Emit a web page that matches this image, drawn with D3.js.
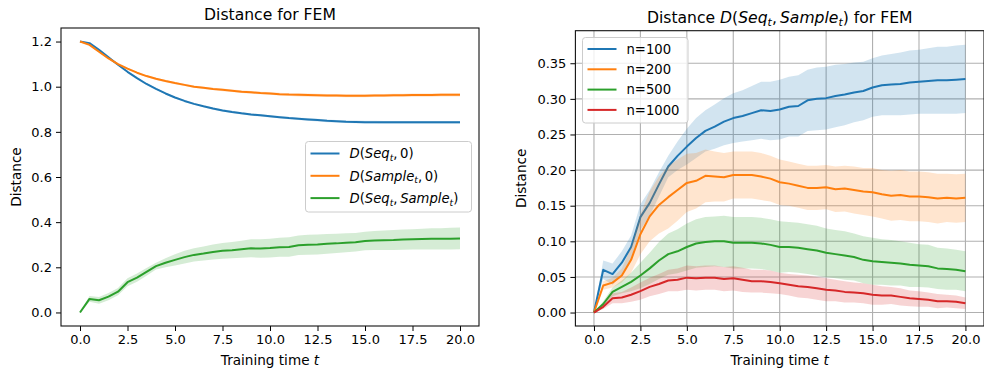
<!DOCTYPE html>
<html>
<head>
<meta charset="utf-8">
<script src="https://cdn.jsdelivr.net/npm/d3@7"></script>
<style>
  body { margin: 0; background: #fff; }
  svg { display: block; font-family: "DejaVu Sans", sans-serif; }
</style>
</head>
<body>
<svg id="chart" width="984" height="371"></svg>
<script>
// Training times (every 0.5)
const times = [0, 0.5, 1, 1.5, 2, 2.5, 3, 3.5, 4, 4.5, 5, 5.5, 6, 6.5, 7, 7.5, 8, 8.5, 9, 9.5,
               10, 10.5, 11, 11.5, 12, 12.5, 13, 13.5, 14, 14.5, 15, 15.5, 16, 16.5, 17, 17.5, 18, 18.5, 19, 19.5, 20]

// Left panel: D(Seq_t, 0) and D(Sample_t, 0)
const seqToInit = [1.200, 1.193, 1.163, 1.130, 1.097, 1.066, 1.038, 1.012, 0.990, 0.970,
                   0.952, 0.937, 0.924, 0.913, 0.903, 0.895, 0.888, 0.882, 0.877, 0.873,
                   0.869, 0.865, 0.861, 0.858, 0.855, 0.852, 0.849, 0.847, 0.845, 0.844,
                   0.843, 0.843, 0.842, 0.842, 0.842, 0.842, 0.842, 0.842, 0.842, 0.842, 0.842]
const seqToInitStd = [0, 0.002, 0.003, 0.003, 0.003, 0.003, 0.004, 0.004, 0.004, 0.004,
                      0.004, 0.004, 0.004, 0.004, 0.005, 0.005, 0.005, 0.005, 0.005, 0.005,
                      0.005, 0.005, 0.005, 0.005, 0.006, 0.006, 0.006, 0.006, 0.006, 0.006,
                      0.006, 0.006, 0.006, 0.006, 0.006, 0.006, 0.006, 0.006, 0.006, 0.006, 0.006]
const sampleToInit = [1.200, 1.185, 1.155, 1.125, 1.100, 1.080, 1.062, 1.047, 1.035, 1.025,
                      1.016, 1.008, 1.000, 0.995, 0.990, 0.986, 0.982, 0.978, 0.975, 0.972,
                      0.970, 0.967, 0.965, 0.964, 0.963, 0.962, 0.961, 0.961, 0.960, 0.960,
                      0.960, 0.961, 0.961, 0.962, 0.962, 0.963, 0.963, 0.963, 0.964, 0.964, 0.964]
const sampleToInitStd = [0, 0.002, 0.003, 0.003, 0.004, 0.004, 0.004, 0.004, 0.005, 0.005,
                         0.005, 0.005, 0.005, 0.005, 0.005, 0.006, 0.006, 0.006, 0.006, 0.006,
                         0.006, 0.006, 0.006, 0.007, 0.007, 0.007, 0.007, 0.007, 0.007, 0.007,
                         0.007, 0.007, 0.007, 0.007, 0.007, 0.007, 0.007, 0.007, 0.007, 0.007, 0.007]

// D(Seq_t, Sample_t) per sample size (n=100 is also the green curve on the left)
const sizeLabels = ['n=100', 'n=200', 'n=500', 'n=1000']
const dist100 = [0, 0.060, 0.054, 0.070, 0.092, 0.134, 0.154, 0.180, 0.205, 0.220,
                 0.233, 0.245, 0.255, 0.261, 0.268, 0.273, 0.276, 0.280, 0.284, 0.283,
                 0.285, 0.289, 0.290, 0.298, 0.300, 0.301, 0.304, 0.306, 0.309, 0.311,
                 0.316, 0.319, 0.320, 0.321, 0.323, 0.324, 0.325, 0.326, 0.326, 0.327, 0.328]
const dist100Std = [0, 0.013, 0.015, 0.016, 0.016, 0.018, 0.018, 0.017, 0.015, 0.020,
                    0.025, 0.028, 0.029, 0.031, 0.033, 0.035, 0.036, 0.038, 0.040, 0.041,
                    0.042, 0.042, 0.043, 0.043, 0.044, 0.044, 0.044, 0.043, 0.042, 0.041,
                    0.041, 0.042, 0.043, 0.044, 0.045, 0.045, 0.046, 0.047, 0.047, 0.048, 0.048]
const dist200 = [0, 0.038, 0.042, 0.052, 0.074, 0.110, 0.135, 0.151, 0.162, 0.172,
                 0.182, 0.185, 0.192, 0.191, 0.190, 0.193, 0.193, 0.193, 0.191, 0.188,
                 0.183, 0.181, 0.178, 0.175, 0.175, 0.176, 0.173, 0.174, 0.172, 0.170,
                 0.169, 0.166, 0.164, 0.165, 0.163, 0.163, 0.162, 0.160, 0.161, 0.160, 0.161]
const dist200Std = [0, 0.006, 0.007, 0.010, 0.018, 0.028, 0.035, 0.040, 0.044, 0.043,
                    0.041, 0.039, 0.037, 0.035, 0.034, 0.033, 0.033, 0.033, 0.033, 0.032,
                    0.032, 0.031, 0.031, 0.031, 0.031, 0.031, 0.032, 0.032, 0.033, 0.033,
                    0.034, 0.034, 0.035, 0.035, 0.035, 0.035, 0.035, 0.035, 0.034, 0.034, 0.034]
const dist500 = [0, 0.012, 0.029, 0.036, 0.043, 0.052, 0.062, 0.073, 0.082, 0.086,
                 0.092, 0.097, 0.099, 0.100, 0.100, 0.098, 0.098, 0.098, 0.097, 0.095,
                 0.092, 0.092, 0.091, 0.089, 0.087, 0.084, 0.082, 0.080, 0.078, 0.074,
                 0.072, 0.071, 0.070, 0.069, 0.067, 0.066, 0.065, 0.062, 0.061, 0.060, 0.058]
const dist500Std = [0, 0.004, 0.006, 0.009, 0.013, 0.018, 0.022, 0.026, 0.029, 0.031,
                    0.033, 0.034, 0.035, 0.035, 0.036, 0.036, 0.036, 0.036, 0.036, 0.036,
                    0.036, 0.035, 0.035, 0.035, 0.035, 0.034, 0.034, 0.034, 0.033, 0.033,
                    0.033, 0.032, 0.032, 0.031, 0.031, 0.030, 0.030, 0.029, 0.029, 0.028, 0.028]
const dist1000 = [0, 0.008, 0.020, 0.021, 0.025, 0.030, 0.036, 0.040, 0.045, 0.046,
                  0.049, 0.048, 0.049, 0.049, 0.047, 0.048, 0.046, 0.044, 0.044, 0.043,
                  0.041, 0.039, 0.037, 0.036, 0.034, 0.032, 0.031, 0.029, 0.028, 0.027,
                  0.025, 0.024, 0.024, 0.022, 0.020, 0.019, 0.018, 0.016, 0.016, 0.015, 0.013]
const dist1000Std = [0, 0.003, 0.007, 0.008, 0.010, 0.012, 0.013, 0.014, 0.015, 0.016,
                     0.017, 0.017, 0.017, 0.017, 0.017, 0.017, 0.017, 0.016, 0.016, 0.016,
                     0.015, 0.015, 0.016, 0.016, 0.016, 0.016, 0.015, 0.015, 0.014, 0.014,
                     0.014, 0.013, 0.012, 0.012, 0.011, 0.011, 0.010, 0.010, 0.009, 0.009, 0.008]

// Ticks
const xTicks = [0, 2.5, 5, 7.5, 10, 12.5, 15, 17.5, 20]
const leftYTicks = [0, 0.2, 0.4, 0.6, 0.8, 1.0, 1.2]
const rightYTicks = [0, 0.05, 0.1, 0.15, 0.2, 0.25, 0.3, 0.35]

const palette = ['#1f77b4', '#ff7f0e', '#2ca02c', '#d62728']
const fs = { tick: 13, label: 13.6, title: 15.6, legend: 13.2 }

const svg = d3.select('#chart')

// write text made of plain / italic / subscript pieces (mathtext look-alike)
function richText(sel, parts, size) {
  const shift = size * 0.22
  let down = false
  parts.forEach(p => {
    const ts = sel.append('tspan').text(p.t)
    if (p.i) ts.attr('font-style', 'italic')
    if (p.sub) {
      ts.attr('font-size', size * 0.7).attr('dy', down ? 0 : shift)
      down = true
    } else if (down) {
      ts.attr('dy', -shift)
      down = false
    }
  })
}

const seqSample = [
  { t: 'D', i: 1 }, { t: '(' }, { t: 'Seq', i: 1 }, { t: 't', i: 1, sub: 1 },
  { t: ',\u2009' }, { t: 'Sample', i: 1 }, { t: 't', i: 1, sub: 1 }, { t: ')' }
]

function drawPanel(o) {
  const x = d3.scaleLinear().domain([-1, 21]).range([o.left, o.right])
  const y = d3.scaleLinear().domain(o.yDomain).range([o.bottom, o.top])
  const g = svg.append('g')

  if (o.grid) {
    g.append('g').selectAll('line').data(xTicks).join('line')
      .attr('x1', d => x(d)).attr('x2', d => x(d))
      .attr('y1', o.top).attr('y2', o.bottom)
      .attr('stroke', '#b0b0b0').attr('stroke-width', 1.1)
    g.append('g').selectAll('line').data(o.yTicks).join('line')
      .attr('x1', o.left).attr('x2', o.right)
      .attr('y1', d => y(d)).attr('y2', d => y(d))
      .attr('stroke', '#b0b0b0').attr('stroke-width', 1.1)
  }

  o.series.forEach((s, k) => {
    const area = d3.area()
      .x((_, i) => x(times[i]))
      .y0((d, i) => y(d - s.std[i]))
      .y1((d, i) => y(d + s.std[i]))
    g.append('path').datum(s.mean)
      .attr('d', area)
      .attr('fill', s.color).attr('fill-opacity', 0.2)
    const line = d3.line()
      .x((_, i) => x(times[i]))
      .y(d => y(d))
    g.append('path').datum(s.mean)
      .attr('d', line)
      .attr('fill', 'none')
      .attr('stroke', s.color).attr('stroke-width', 2)
      .attr('stroke-linejoin', 'round')
  })

  // axes
  const xAxis = g.append('g')
    .attr('transform', 'translate(0,' + o.bottom + ')')
    .call(d3.axisBottom(x).tickValues(xTicks).tickFormat(d3.format('.1f')).tickSize(5).tickPadding(4))
  const yAxis = g.append('g')
    .attr('transform', 'translate(' + o.left + ',0)')
    .call(d3.axisLeft(y).tickValues(o.yTicks).tickFormat(d3.format(o.yFormat)).tickSize(5).tickPadding(4))
  ;[xAxis, yAxis].forEach(a => {
    a.attr('font-family', null).attr('font-size', fs.tick)
    a.select('.domain').remove()
    a.selectAll('.tick line').attr('stroke', '#000').attr('stroke-width', 1)
    a.selectAll('.tick text').attr('fill', '#000')
  })

  g.append('rect')
    .attr('x', o.left).attr('y', o.top)
    .attr('width', o.right - o.left).attr('height', o.bottom - o.top)
    .attr('fill', 'none').attr('stroke', '#111').attr('stroke-width', 1.1)

  const cx = (o.left + o.right) / 2
  const title = g.append('text')
    .attr('x', cx).attr('y', o.top - 8)
    .attr('text-anchor', 'middle').attr('font-size', fs.title)
  richText(title, o.title, fs.title)

  const xl = g.append('text')
    .attr('x', cx).attr('y', 365)
    .attr('text-anchor', 'middle').attr('font-size', fs.label)
  richText(xl, [{ t: 'Training time ' }, { t: 't', i: 1 }], fs.label)

  g.append('text')
    .attr('transform', 'translate(' + o.yLabelX + ',' + (o.top + o.bottom) / 2 + ') rotate(-90)')
    .attr('text-anchor', 'middle').attr('font-size', fs.label)
    .text('Distance')

  // legend
  const L = o.legend
  const lg = g.append('g')
  lg.append('rect')
    .attr('x', L.x).attr('y', L.y).attr('width', L.w).attr('height', L.h)
    .attr('rx', 3).attr('fill', '#fff').attr('fill-opacity', 0.8)
    .attr('stroke', '#cccccc').attr('stroke-width', 1)
  o.series.forEach((s, k) => {
    const ey = L.y + L.first + k * L.step
    lg.append('line')
      .attr('x1', L.x + 5).attr('x2', L.x + 34)
      .attr('y1', ey).attr('y2', ey)
      .attr('stroke', s.color).attr('stroke-width', 2)
    const t = lg.append('text')
      .attr('x', L.x + 44).attr('y', ey + 4.7)
      .attr('font-size', fs.legend)
    richText(t, s.label, fs.legend)
  })
}

drawPanel({
  left: 61, right: 479, top: 28, bottom: 326,
  yDomain: [-0.06, 1.26], yTicks: leftYTicks, yFormat: '.1f',
  yLabelX: 20.5, grid: false,
  title: [{ t: 'Distance for FEM' }],
  legend: { x: 305.5, y: 141.5, w: 166, h: 70.5, first: 12, step: 22.3 },
  series: [
    { mean: seqToInit, std: seqToInitStd, color: palette[0],
      label: [{ t: 'D', i: 1 }, { t: '(' }, { t: 'Seq', i: 1 }, { t: 't', i: 1, sub: 1 }, { t: ',\u20090)' }] },
    { mean: sampleToInit, std: sampleToInitStd, color: palette[1],
      label: [{ t: 'D', i: 1 }, { t: '(' }, { t: 'Sample', i: 1 }, { t: 't', i: 1, sub: 1 }, { t: ',\u20090)' }] },
    { mean: dist100, std: dist100Std, color: palette[2], label: seqSample }
  ]
})

const sizeMeans = [dist100, dist200, dist500, dist1000]
const sizeStds = [dist100Std, dist200Std, dist500Std, dist1000Std]

drawPanel({
  left: 575.4, right: 984, top: 30.7, bottom: 326,
  yDomain: [-0.0189, 0.3957], yTicks: rightYTicks, yFormat: '.2f',
  yLabelX: 526, grid: true,
  title: [{ t: 'Distance ' }].concat(seqSample, [{ t: ' for FEM' }]),
  legend: { x: 582.5, y: 37.5, w: 105.5, h: 85.5, first: 11.5, step: 20.3 },
  series: sizeLabels.map((n, k) => ({
    mean: sizeMeans[k], std: sizeStds[k], color: palette[k], label: [{ t: n }]
  }))
})
</script>
</body>
</html>
